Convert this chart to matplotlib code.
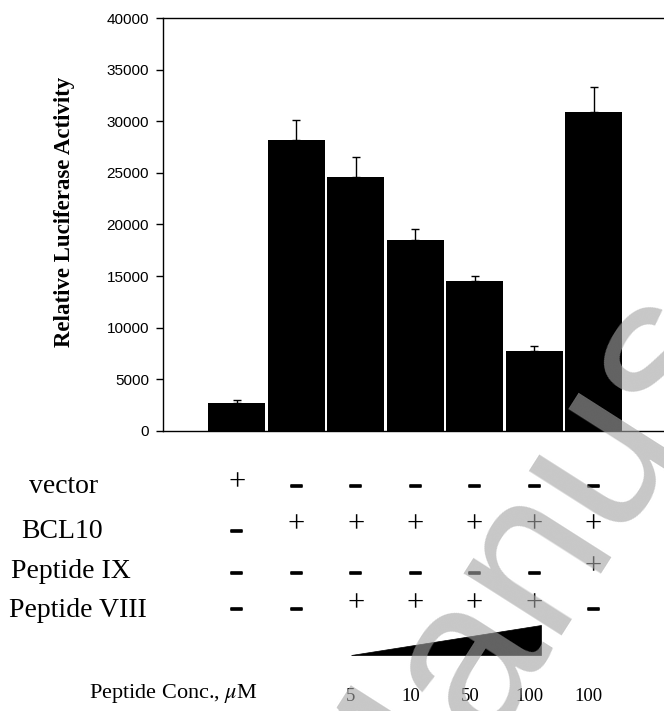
import matplotlib
matplotlib.use("Agg")
import matplotlib.pyplot as plt
import matplotlib.transforms as mtransforms
import matplotlib.patheffects as pe
from matplotlib.patches import Polygon
import numpy as np

plt.rcParams["mathtext.fontset"] = "stix"

# ---- data ----
values = [2750, 28200, 24600, 18500, 14500, 7700, 30900]
errors = [250, 1900, 1900, 1100, 550, 500, 2450]
yticks = [0, 5000, 10000, 15000, 20000, 25000, 30000, 35000, 40000]
row_labels = ["vector", "BCL10", "Peptide IX", "Peptide VIII"]
row_signs = [
    ["+", "-", "-", "-", "-", "-", "-"],
    ["-", "+", "+", "+", "+", "+", "+"],
    ["-", "-", "-", "-", "-", "-", "+"],
    ["-", "-", "+", "+", "+", "+", "-"],
]
conc_labels = ["", "", "5", "10", "50", "100", "100"]
ylabel = "Relative Luciferase Activity"
conc_title = "Peptide Conc., $\\mu$M"

W, H = 664, 711
fig = plt.figure(figsize=(W / 100, H / 100), dpi=100)

def fx(px):
    return px / W

def fy(py):
    return 1 - py / H

ax = fig.add_axes([fx(163), fy(431), fx(664) - fx(163), fy(18) - fy(431)])
x = np.arange(len(values))
ax.bar(x, values, width=0.96, color="black", edgecolor="none", zorder=2)
ax.errorbar(x, values, yerr=[np.zeros(len(errors)), errors], fmt="none",
            ecolor="black", elinewidth=1.0, capsize=3, capthick=1.0, zorder=3)
ax.set_xlim(-1.24, 7.185)
ax.set_ylim(0, 40000)
ax.set_yticks(yticks)
ax.set_yticklabels([str(t) for t in yticks], fontfamily="Liberation Sans", fontsize=11)
ax.tick_params(axis="y", direction="out", length=5, width=1, pad=5)
ax.set_xticks([])
ax.spines["right"].set_visible(False)
for s in ["left", "top", "bottom"]:
    ax.spines[s].set_linewidth(1.0)

fig.text(fx(65), fy(212), ylabel, rotation=90, ha="center", va="center",
         fontfamily="Liberation Serif", fontweight="bold", fontsize=16.5)

# table below
trans = mtransforms.blended_transform_factory(ax.transData, fig.transFigure)
label_base = [493, 538, 578, 617]
label_x = [64, 62, 71, 78]
plus_center = [483, 525, 567, 604]
minus_center = [485, 530, 572, 608]
thick = [pe.withStroke(linewidth=1.2, foreground="black")]
for i, (lab, signs) in enumerate(zip(row_labels, row_signs)):
    fig.text(fx(label_x[i]), fy(label_base[i]), lab, ha="center", va="baseline",
             fontfamily="Liberation Serif", fontsize=20)
    for xi, s in zip(x, signs):
        if s == "+":
            ax.text(xi, fy(plus_center[i] + 7.6), "+", transform=trans,
                    ha="center", va="baseline",
                    fontfamily="Liberation Serif", fontsize=22)
        else:
            ax.text(xi, fy(minus_center[i] + 6.8), "\u2013", transform=trans,
                    ha="center", va="baseline", path_effects=thick,
                    fontfamily="Liberation Sans", fontweight="bold", fontsize=16)

# wedge
tri = Polygon([[1.92, fy(655)], [5.11, fy(655)], [5.11, fy(625)]], closed=True,
              transform=trans, facecolor="black", edgecolor="black", lw=0.5,
              clip_on=False)
ax.add_patch(tri)

fig.text(fx(173), fy(698), conc_title, ha="center", va="baseline",
         fontfamily="Liberation Serif", fontsize=16)
for xi, c in zip(x, conc_labels):
    if c:
        ax.text(xi - 0.08, fy(701), c, transform=trans, ha="center", va="baseline",
                fontfamily="Liberation Serif", fontsize=13.5)

# watermark
fig.text(fx(382), fy(890), "Manuscript", rotation=57.5, ha="left", va="baseline",
         rotation_mode="anchor", fontfamily="Liberation Sans",
         fontsize=158, color="#a4a4a4", alpha=0.61, zorder=10)

fig.savefig("out.png", dpi=100)
